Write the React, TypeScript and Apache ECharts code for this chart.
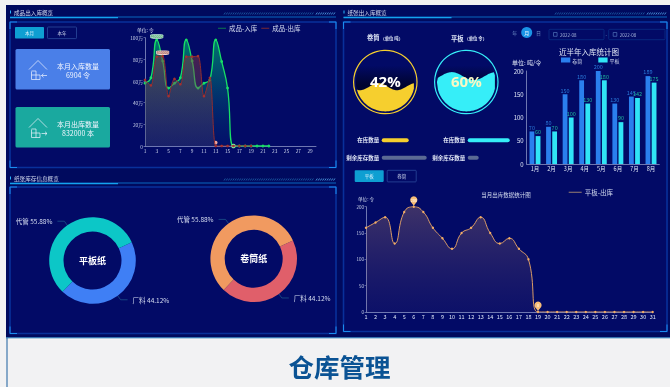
import React, { useEffect, useRef } from "react";
import * as echarts from "echarts";

// Finished-goods chart: daily inbound / outbound
const productDays = ["1","2","3","4","5","6","7","8","9","10","11","12","13","14","15","16","17","18","19","20","21","22","23","24","25","26","27","28","29","30"];
const productIn = [580000,630000,980000,785000,535000,580000,630000,980000,785000,535000,580000,610000,980000,780000,535000,0,0,0,0,0,0,0];
const productOut = [610000,560000,825000,830000,460000,620000,570000,825000,825000,830000,460000,630000,0,0,0,0,0,0,0];

// Paper stock donuts
const stockNames = ["厂料", "代管"];
const flatStock = [30, 38];
const rollStock = [30, 38];
const flatColors = ["#3f7ff5", "#0cc7c7"];
const rollColors = ["#e05f6a", "#f19a60"];

// Fill gauges and stock bars
const rollFillPercent = 42;
const flatFillPercent = 60;
const stockRows = ["在库数量", "剩余库存数量"];
const rollStockBars = [27, 45];
const flatStockBars = [42, 11];

// Half-year inbound bars
const months = ["1月","2月","3月","4月","5月","6月","7月","8月"];
const rollInbound = [70,80,150,180,200,130,145,189];
const flatInbound = [60,70,100,130,180,90,142,175];

// Flat paper daily outbound
const monthDays = ["1","2","3","4","5","6","7","8","9","10","11","12","13","14","15","16","17","18","19","20","21","22","23","24","25","26","27","28","29","30","31"];
const flatOut = [160,170,180,130,190,200,190,160,140,120,150,160,180,150,130,140,120,100,0,0,0,0,0,0,0,0,0,0,0,0,0];

const FONT = '"Noto Sans CJK SC", "Noto Sans", sans-serif';
const NAVY = "#020a66";
const LABEL = "#d5dcf0";

const txt = (x: number, y: number, text: string, size: number, fill = LABEL, align = "left", weight = "normal") => ({
  type: "text", x, y, silent: true,
  style: { text, fill, font: `${weight} ${size}px ${FONT}`, textAlign: align, textVerticalAlign: "middle" },
});
const box = (x: number, y: number, width: number, height: number, style: any, r = 0) => ({
  type: "rect", silent: true, shape: { x, y, width, height, r }, style,
});
const seg = (x1: number, y1: number, x2: number, y2: number, stroke: string, lineWidth = 1) => ({
  type: "line", silent: true, shape: { x1, y1, x2, y2 }, style: { stroke, lineWidth },
});
const poly = (points: number[][], stroke: string, lineWidth = 0.8) => ({
  type: "polyline", silent: true, shape: { points }, style: { stroke, lineWidth, fill: "none" },
});

// Section heading: title, rule, hatch strips, then the framed body
function panel(left: number, right: number, headY: number, frameTop: number, frameBottom: number, title: string) {
  const out: any[] = [];
  out.push(box(left, headY - 6.5, 1, 3, { fill: "#29b6ff" }));
  out.push(txt(left + 4, headY - 4.5, title, 5.6, "#cfd8ee"));
  out.push(seg(left, headY, right, headY, "#0b7fd8", 0.8));
  out.push(seg(left, headY + 0.6, left + 108, headY + 0.6, "#14a3ee", 1.2));
  for (let x = right - 112; x < right - 23; x += 2.2) out.push(seg(x, headY - 2.5, x + 1.3, headY - 4.5, "#1c5ea6", 0.9));
  for (let x = right - 20; x < right - 1; x += 2.2) out.push(seg(x, headY - 2.5, x + 1.3, headY - 4.5, "#4fa2e6", 0.9));
  const w = right - left;
  const h = frameBottom - frameTop;
  out.push(box(left, frameTop, w, h, { fill: NAVY, stroke: "#08309a", lineWidth: 1.6 }));
  const c = 7;
  const corner = "#1a8cf0";
  out.push(poly([[left, frameTop + c], [left, frameTop], [left + c, frameTop]], corner, 1));
  out.push(poly([[right - c, frameTop], [right, frameTop], [right, frameTop + c]], corner, 1));
  out.push(poly([[left, frameBottom - c], [left, frameBottom], [left + c, frameBottom]], corner, 1));
  out.push(poly([[right - c, frameBottom], [right, frameBottom], [right, frameBottom - c]], corner, 1));
  return out;
}

function tabs(x: number, y: number, first: string, second: string) {
  return [
    box(x, y, 29, 11.6, { fill: "#0e9fd2" }, 0.8),
    txt(x + 14.5, y + 5.8, first, 4.5, "#e6f6ff", "center"),
    box(x + 32.5, y, 29, 11.6, { fill: "none", stroke: "#2b4a9c", lineWidth: 0.8 }, 0.8),
    txt(x + 47, y + 5.8, second, 4.5, "#cfd8ee", "center"),
  ];
}

// Warehouse glyph on the summary cards; dir = 1 points the arrow outward
function houseIcon(x: number, y: number, dir: number) {
  const s = "#f0f5ff";
  const ax = x + 12.5;
  const tipX = dir > 0 ? ax + 5.5 : ax;
  const backX = dir > 0 ? ax + 3.5 : ax + 2;
  return [
    poly([[x, y + 9], [x + 9, y], [x + 18, y + 9]], s, 0.7),
    poly([[x + 2.5, y + 11], [x + 2.5, y + 19], [x + 11, y + 19], [x + 11, y + 14.5], [x + 7, y + 14.5], [x + 7, y + 10.5], [x + 2.5, y + 10.5]], s, 0.7),
    seg(x + 2.5, y + 14.5, x + 7, y + 14.5, s, 0.7),
    seg(x + 7, y + 14.5, x + 7, y + 19, s, 0.7),
    seg(ax, y + 15, ax + 5.5, y + 15, s, 0.7),
    poly([[backX, y + 13.2], [tipX, y + 15], [backX, y + 16.8]], s, 0.7),
  ];
}

function summaryCard(y: number, fill: string, title: string, amount: string, dir: number) {
  return [
    box(15.5, y, 94.5, 40.5, { fill }, 1.5),
    ...houseIcon(29, y + 11.5, dir),
    txt(78, y + 16.5, title, 7, "#f2f6ff", "center"),
    txt(78, y + 25.5, amount, 7, "#f2f6ff", "center"),
  ];
}

function dateField(x: number, width: number, label: string) {
  return [
    box(x, 29.3, width, 10.4, { fill: "none", stroke: "#0a2f86", lineWidth: 0.8 }, 1),
    box(x + 4.5, 32.5, 3.6, 3.8, { fill: "none", stroke: "#5f86c8", lineWidth: 0.6 }),
    txt(x + 11, 34.5, label, 4.5, "#a9b8dc"),
  ];
}

// Filled circle gauge with a single wave, drawn from the series value
function liquidSeries(percent: number, cx: number, color: string, textColor: string, crestX: number, period: number, amp: number) {
  const cy = 82;
  const r = 29.4;
  return {
    type: "custom",
    coordinateSystem: "none",
    silent: true,
    z: 3,
    data: [[percent]],
    renderItem: (_p: any, api: any) => {
      const value = api.value(0);
      const level = cy + r - (2 * r * value) / 100;
      const top: number[][] = [];
      const bottom: number[][] = [];
      for (let x = cx - r; x <= cx + r + 0.01; x += 1) {
        const half = Math.sqrt(Math.max(0, r * r - (x - cx) * (x - cx)));
        const wave = level - amp * Math.cos((2 * Math.PI * (x - crestX)) / period);
        const yTop = Math.min(Math.max(wave, cy - half), cy + half);
        top.push([x, yTop]);
        bottom.unshift([x, cy + half]);
      }
      return {
        type: "group",
        children: [
          { type: "circle", shape: { cx, cy, r: 31.7 }, style: { fill: NAVY, stroke: color, lineWidth: 1.2 } },
          {
            type: "circle",
            shape: { cx, cy, r },
            style: {
              fill: new echarts.graphic.LinearGradient(0, 0, 0, 1, [
                { offset: 0, color: "#020a66" },
                { offset: 0.22, color: "#020a66" },
                { offset: 0.55, color: "#000430" },
                { offset: 1, color: "#000430" },
              ]),
            },
          },
          { type: "polygon", shape: { points: [...top, ...bottom] }, style: { fill: color } },
          {
            type: "text",
            x: cx,
            y: 81,
            style: {
              text: `${value}%`,
              fill: textColor,
              font: `bold 15px "Open Sans", ${FONT}`,
              textAlign: "center",
              textVerticalAlign: "middle",
            },
          },
        ],
      };
    },
  };
}

function buildOption() {
  const graphic: any[] = [
    box(0, 0, 670, 387, { fill: "#f2f2f3" }),
    box(6, 5, 664, 332.5, { fill: "#000a5e" }),
    seg(6, 337.8, 670, 337.8, "#1a6fb4", 1),
    seg(7, 338, 7, 387, "#1a5f9e", 1),
    txt(339.5, 365, "仓库管理", 25.5, "#0b5394", "center", "bold"),

    ...panel(10, 336, 17, 22, 167.5, "成品出入库概览"),
    ...tabs(15, 27, "本月", "本年"),
    ...summaryCard(49, "#4a7fe8", "本月入库数量", "6904 令", -1),
    ...summaryCard(107, "#1aa99f", "本月出库数量", "832000 本", 1),
    txt(137, 29.5, "单位: 令", 4.8, "#cfd8ee"),

    ...panel(10, 336, 183, 187, 333.5, "纸张库存信息概览"),

    ...panel(343.5, 667, 17, 22, 331.5, "纸张出入库概览"),
    txt(379.5, 37.5, "卷筒", 6.3, "#dfe6f6", "right", "bold"),
    txt(380.5, 37.5, "（单位 吨）", 4.3, "#dfe6f6", "left", "bold"),
    txt(463.5, 38, "平板", 6.3, "#dfe6f6", "right", "bold"),
    txt(464.5, 38, "（单位 令）", 4.3, "#dfe6f6", "left", "bold"),
    txt(514.7, 32.5, "年", 5, "#6f8fc8", "center"),
    { type: "circle", silent: true, shape: { cx: 526.7, cy: 32.5, r: 5.5 }, style: { fill: "#1a93e6" } },
    txt(526.7, 32.5, "月", 5, "#f2f8ff", "center"),
    txt(538.5, 32.5, "日", 5, "#6f8fc8", "center"),
    ...dateField(549, 55, "2022-08"),
    txt(606.4, 34.5, "-", 5, "#8fa4cf", "center"),
    ...dateField(608.7, 56.3, "2022-08"),
    txt(512, 62.7, "单位: 吨/令", 6, "#dfe6f6"),
    ...tabs(354.7, 170.3, "平板", "卷筒"),
    txt(358, 199, "单位: 令", 4.6, "#cfd8ee"),
  ];

  const mark = (type: string, symbol: any, symbolSize: any, color: string, textColor: string, fontSize: number, offset: number[] = [0, 0]) => ({
    type,
    symbol,
    symbolSize,
    symbolOffset: offset,
    itemStyle: { color },
    label: fontSize
      ? { show: true, color: textColor, fontSize, position: "inside", fontFamily: FONT }
      : { show: false },
  });

  const chartTitle = (text: string, left: number, top: number, size: number, color: string, weight = "normal") => ({
    text, left, top, padding: 0, textAlign: "center", textVerticalAlign: "middle",
    textStyle: { color, fontSize: size, fontWeight: weight, fontFamily: FONT },
  });

  return {
    animation: false,
    backgroundColor: "transparent",
    textStyle: { fontFamily: FONT },
    graphic: { elements: graphic },
    title: [
      chartTitle("近半年入库统计图", 589, 51, 7.5, "#e4eaf8"),
      chartTitle("当月出库数据统计图", 506, 194.7, 5.5, "#d5dcf0"),
      chartTitle("平板纸", 92.5, 260, 9, "#fff", "bold"),
      chartTitle("卷筒纸", 253.7, 258.5, 9, "#fff", "bold"),
    ],
    legend: [
      {
        left: 218, top: 25, itemWidth: 8, itemHeight: 1, itemGap: 4, icon: "rect", padding: 0,
        textStyle: { color: LABEL, fontSize: 6.5, padding: [0, 0, 0, -2] },
        data: [
          { name: "成品-入库", itemStyle: { color: "#0c7a50" } },
          { name: "成品-出库", itemStyle: { color: "#7a2a34" } },
        ],
      },
      {
        left: 561, top: 57.5, itemWidth: 9.3, itemHeight: 5, itemGap: 16, icon: "rect", padding: 0,
        textStyle: { color: LABEL, fontSize: 5, padding: [0, 0, 0, -3] },
        data: ["卷筒", "平板"],
      },
      {
        left: 568.7, top: 189, itemWidth: 13, itemHeight: 1, icon: "rect", padding: 0,
        textStyle: { color: LABEL, fontSize: 6.5, padding: [0, 0, 0, -2] },
        data: [{ name: "平板-出库", itemStyle: { color: "#9a8070" } }],
      },
    ],
    grid: [
      { left: 145, top: 37.7, width: 171, height: 108.3 },
      { left: 526.7, top: 71, width: 132.6, height: 93 },
      { left: 366, top: 206.7, width: 286.7, height: 105.3 },
      { left: 381.7, top: 131.5, width: 100, height: 35 },
      { left: 467.7, top: 131.5, width: 100, height: 35 },
    ],
    xAxis: [
      {
        gridIndex: 0, type: "category", boundaryGap: false, data: productDays,
        axisLine: { lineStyle: { color: "#8a93c4", width: 0.8 } }, axisTick: { show: false },
        axisLabel: { color: "#c8d0e8", fontSize: 4.8, interval: 1, margin: 2.5 },
      },
      {
        gridIndex: 1, type: "category", data: months,
        axisLine: { lineStyle: { color: "#8a93c4", width: 0.8 } }, axisTick: { show: false },
        axisLabel: { color: "#dfe6f6", fontSize: 5.5, margin: 2.5 },
      },
      {
        gridIndex: 2, type: "category", boundaryGap: false, data: monthDays,
        axisLine: { lineStyle: { color: "#8a93c4", width: 0.8 } }, axisTick: { show: false },
        axisLabel: { color: "#dfe6f6", fontSize: 5.5, interval: 0, margin: 2.5 },
      },
      { gridIndex: 3, type: "value", min: 0, max: 100, show: false },
      { gridIndex: 4, type: "value", min: 0, max: 100, show: false },
    ],
    yAxis: [
      {
        gridIndex: 0, type: "value", min: 0, max: 1000000, interval: 200000, splitLine: { show: false },
        axisLine: { show: true, lineStyle: { color: "#8a93c4", width: 0.8 } },
        axisTick: { show: true, length: 1.5, lineStyle: { color: "#8a93c4", width: 0.6 } },
        axisLabel: { color: "#c8d0e8", fontSize: 4.8, margin: 2, formatter: (v: number) => (v ? `${v / 10000}万` : "0") },
      },
      {
        gridIndex: 1, type: "value", min: 0, max: 200, interval: 50, splitLine: { show: false },
        axisLine: { show: true, lineStyle: { color: "#8a93c4", width: 0.8 } }, axisTick: { show: false },
        axisLabel: { color: "#dfe6f6", fontSize: 6, margin: 3 },
      },
      {
        gridIndex: 2, type: "value", min: 0, max: 200, interval: 50, splitLine: { show: false },
        axisLine: { show: true, lineStyle: { color: "#8a93c4", width: 0.8 } },
        axisTick: { show: true, length: 1.5, lineStyle: { color: "#8a93c4", width: 0.6 } },
        axisLabel: { color: "#c8d0e8", fontSize: 4.5, margin: 2 },
      },
      {
        gridIndex: 3, type: "category", inverse: true, data: stockRows,
        axisLine: { show: false }, axisTick: { show: false },
        axisLabel: { color: "#e4eaf8", fontSize: 5.5, fontWeight: "bold", margin: 2.5 },
      },
      {
        gridIndex: 4, type: "category", inverse: true, data: stockRows,
        axisLine: { show: false }, axisTick: { show: false },
        axisLabel: { color: "#e4eaf8", fontSize: 5.5, fontWeight: "bold", margin: 2.5 },
      },
    ],
    series: [
      {
        name: "成品-入库", type: "line", xAxisIndex: 0, yAxisIndex: 0, data: productIn, smooth: true, z: 4,
        symbol: "circle", symbolSize: 2.8, showAllSymbol: true,
        lineStyle: { color: "#18e066", width: 1.3 }, itemStyle: { color: "#18e066" },
        areaStyle: {
          color: new echarts.graphic.LinearGradient(0, 0, 0, 1, [
            { offset: 0, color: "rgba(0,205,115,0.8)" },
            { offset: 1, color: "rgba(0,60,130,0.2)" },
          ]),
        },
        markPoint: {
          data: [
            mark("max", "roundRect", [13, 4.4], "#c8fbdc", "#0a5a30", 3.6, [0, -3.4]),
            mark("min", "circle", 4.5, "#7dffa8", "#0a5a30", 0),
          ],
        },
      },
      {
        name: "成品-出库", type: "line", xAxisIndex: 0, yAxisIndex: 0, data: productOut, smooth: 0.3, z: 5,
        symbol: "circle", symbolSize: 2.6, showAllSymbol: true,
        lineStyle: { color: "#8e2d30", width: 1 }, itemStyle: { color: "#a5302f" },
        areaStyle: {
          color: new echarts.graphic.LinearGradient(0, 0, 0, 1, [
            { offset: 0, color: "rgba(135,55,60,0.72)" },
            { offset: 1, color: "rgba(95,80,105,0.35)" },
          ]),
        },
        markPoint: {
          data: [
            mark("max", "roundRect", [13, 4.4], "#f6d6ce", "#6a2020", 3.6, [0, -3.4]),
            mark("min", "circle", 3.6, "#f0a8a0", "#6a2020", 0, [0, -3.4]),
          ],
        },
      },
      {
        name: "卷筒", type: "bar", xAxisIndex: 1, yAxisIndex: 1, data: rollInbound, barWidth: 4.8, barGap: "28%",
        itemStyle: { color: "#2a7fee" },
        label: { show: true, position: "top", distance: 1, color: "#2a78d8", fontSize: 5.5 },
      },
      {
        name: "平板", type: "bar", xAxisIndex: 1, yAxisIndex: 1, data: flatInbound, barWidth: 4.8,
        itemStyle: { color: "#30e4f6" },
        label: { show: true, position: "top", distance: 1, color: "#1fb59c", fontSize: 5.5 },
      },
      {
        name: "平板-出库", type: "line", xAxisIndex: 2, yAxisIndex: 2, data: flatOut, smooth: true,
        symbol: "circle", symbolSize: 2.4, showAllSymbol: true,
        lineStyle: { color: "#f2ac66", width: 0.9 }, itemStyle: { color: "#f2ac66" },
        areaStyle: {
          color: new echarts.graphic.LinearGradient(0, 0, 0, 1, [
            { offset: 0, color: "rgba(240,170,110,0.36)" },
            { offset: 1, color: "rgba(130,90,130,0.12)" },
          ]),
        },
        markPoint: {
          data: [
            mark("max", "pin", 12, "#f7bd78", "#fff", 3.8),
            mark("min", "pin", 12, "#f7bd78", "#fff", 3.8),
          ],
        },
      },
      {
        type: "bar", xAxisIndex: 3, yAxisIndex: 3, barWidth: 4, silent: true,
        data: [
          { value: rollStockBars[0], itemStyle: { color: "#f6cf2e", borderRadius: 2 } },
          { value: rollStockBars[1], itemStyle: { color: "#5b6a94", borderRadius: 2 } },
        ],
      },
      {
        type: "bar", xAxisIndex: 4, yAxisIndex: 4, barWidth: 4, silent: true,
        data: [
          { value: flatStockBars[0], itemStyle: { color: "#36eef8", borderRadius: 2 } },
          { value: flatStockBars[1], itemStyle: { color: "#5b6a94", borderRadius: 2 } },
        ],
      },
      liquidSeries(rollFillPercent, 385.3, "#f6cf2e", "#ffffff", 378.5, 37, 3.5),
      liquidSeries(flatFillPercent, 466.3, "#36eef8", "#f8f8c4", 451.7, 44, 4),
      ...[
        { values: flatStock, center: [92.5, 260.5], colors: flatColors },
        { values: rollStock, center: [253.7, 258.7], colors: rollColors },
      ].map((d) => ({
        type: "pie",
        silent: true,
        center: d.center,
        radius: [29, 43.3],
        startAngle: 25,
        data: stockNames.map((name, i) => ({ name, value: d.values[i], itemStyle: { color: d.colors[i] } })),
        label: { color: "#d5dcf0", fontSize: 6.5, formatter: "{b} {d}%", fontFamily: FONT },
        labelLine: { length: 5, length2: 7, lineStyle: { color: "#1f5d8e", width: 0.7 } },
      })),
    ],
  };
}

export default function App() {
  const ref = useRef<HTMLDivElement>(null);
  useEffect(() => {
    const chart = echarts.init(ref.current!, undefined, { renderer: "svg" });
    chart.setOption(buildOption() as any);
    return () => chart.dispose();
  }, []);
  return <div ref={ref} style={{ position: "fixed", left: 0, top: 0, width: 670, height: 387 }} />;
}
